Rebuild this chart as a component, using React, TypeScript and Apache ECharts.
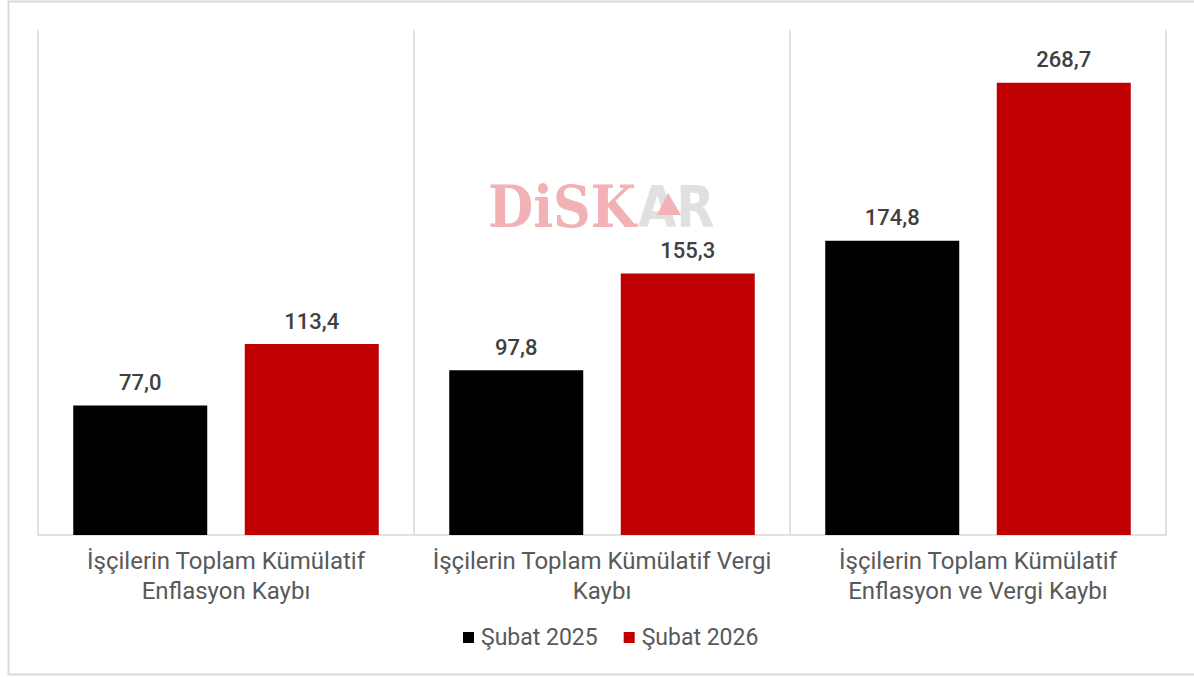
import React, { useEffect, useRef } from "react";
import * as echarts from "echarts";

const categories = [
  "İşçilerin Toplam Kümülatif\nEnflasyon Kaybı",
  "İşçilerin Toplam Kümülatif Vergi\nKaybı",
  "İşçilerin Toplam Kümülatif\nEnflasyon ve Vergi Kaybı",
];
const seriesNames = ["Şubat 2025", "Şubat 2026"];
const values2025 = [77.0, 97.8, 174.8];
const values2026 = [113.4, 155.3, 268.7];
const colors = ["#000000", "#c00000"];

const FONT = "Roboto, 'DejaVu Sans', sans-serif";

export default function App() {
  const ref = useRef<HTMLDivElement>(null);
  useEffect(() => {
    if (!ref.current) return;
    const chart = echarts.init(ref.current, undefined, { renderer: "svg" });
    const fmt = (p: any) => Number(p.value).toFixed(1).replace(".", ",");
    const labelStyle = {
      show: true,
      position: "top",
      distance: 12,
      fontSize: 22,
      fontWeight: 500,
      color: "#404040",
      fontFamily: FONT,
      formatter: fmt,
    };
    chart.setOption({
      animation: false,
      backgroundColor: "#ffffff",
      textStyle: { fontFamily: FONT },
      grid: { left: 38, right: 28, top: 30, bottom: 142, containLabel: false },
      legend: {
        data: seriesNames,
        bottom: 23,
        left: 458,
        icon: "rect",
        itemWidth: 11,
        itemHeight: 11,
        itemGap: 26,
        textStyle: { fontSize: 23, color: "#595959", fontFamily: FONT, padding: [0, 0, 0, 2] },
      },
      xAxis: {
        type: "category",
        data: categories,
        axisLine: { lineStyle: { color: "#d9d9d9", width: 1.5 } },
        axisTick: { show: false },
        splitLine: { show: true, lineStyle: { color: "#d9d9d9", width: 1.5 } },
        axisLabel: {
          fontSize: 24,
          color: "#595959",
          lineHeight: 30,
          margin: 11,
          interval: 0,
          fontFamily: FONT,
        },
      },
      yAxis: { type: "value", min: 0, max: 300, show: false, splitLine: { show: false } },
      series: [
        {
          name: seriesNames[0],
          type: "bar",
          data: values2025,
          barWidth: 134,
          barGap: "28%",
          itemStyle: { color: colors[0] },
          label: labelStyle,
        },
        {
          name: seriesNames[1],
          type: "bar",
          data: values2026,
          barWidth: 134,
          itemStyle: { color: colors[1] },
          label: labelStyle,
        },
      ],
      graphic: [
        {
          type: "rect",
          shape: { x: 8.5, y: 1.5, width: 1200, height: 673 },
          style: { fill: "none", stroke: "#d9d9d9", lineWidth: 2 },
          silent: true,
        },
        {
          type: "text",
          x: 488,
          y: 207,
          scaleX: 0.9,
          style: {
            text: "DiSK",
            fill: "#f2b1b5",
            font: "bold 58px 'DejaVu Serif', serif",
            textVerticalAlign: "middle",
          },
          silent: true,
        },
        {
          type: "text",
          x: 638,
          y: 207,
          scaleX: 0.87,
          style: {
            text: "AR",
            fill: "#e0e0e0",
            font: "bold 57px 'DejaVu Sans', sans-serif",
            textVerticalAlign: "middle",
          },
          silent: true,
        },
        {
          type: "polygon",
          shape: { points: [[668, 193], [657, 215], [681, 215]] },
          style: { fill: "#f2b1b5" },
          silent: true,
        },
      ],
    });
    return () => chart.dispose();
  }, []);
  return (
    <div
      ref={ref}
      style={{ position: "absolute", left: 0, top: 0, width: 1194, height: 677 }}
    />
  );
}
